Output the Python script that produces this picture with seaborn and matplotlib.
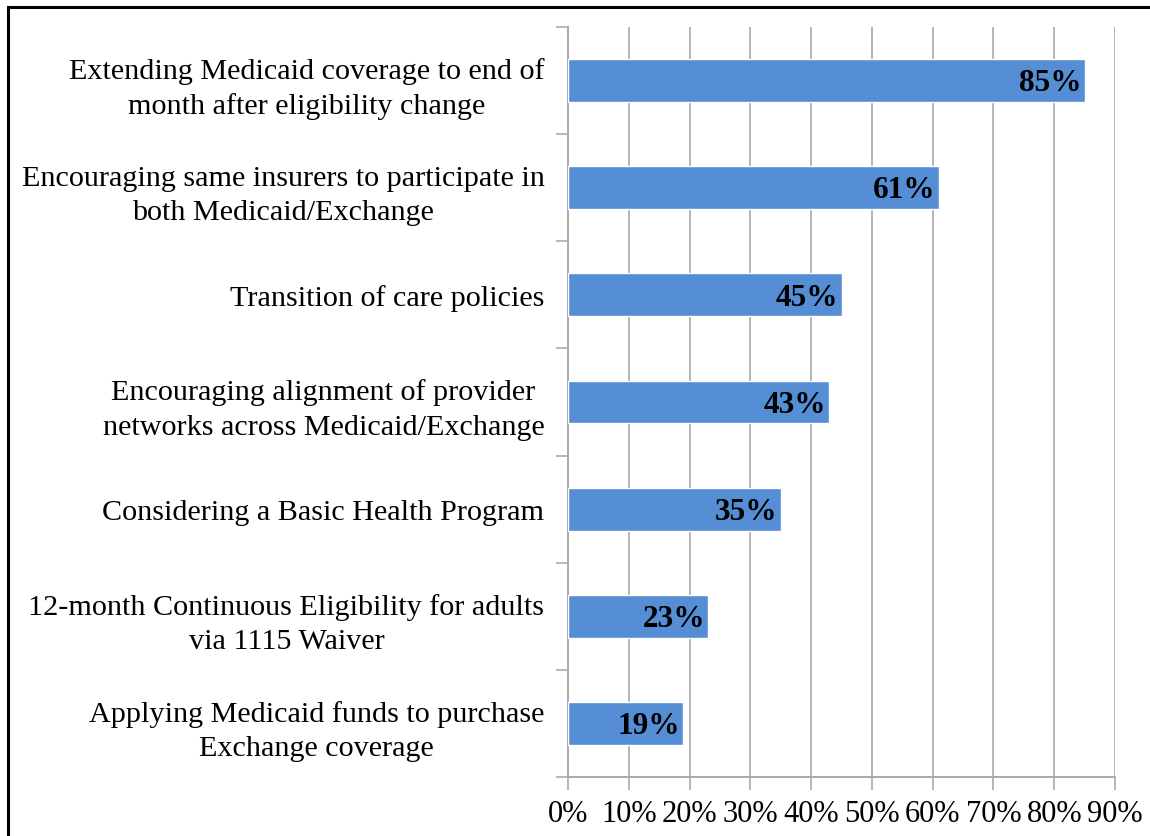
import matplotlib
matplotlib.use("Agg")
import matplotlib.pyplot as plt
import seaborn as sns
import pandas as pd
from matplotlib.patches import Rectangle
from matplotlib.ticker import FixedLocator, PercentFormatter

categories = [
    "Extending Medicaid coverage to end of\nmonth after eligibility change",
    "Encouraging same insurers to participate in\nboth Medicaid/Exchange",
    "Transition of care policies",
    "Encouraging alignment of provider\nnetworks across Medicaid/Exchange",
    "Considering a Basic Health Program",
    "12-month Continuous Eligibility for adults\nvia 1115 Waiver",
    "Applying Medicaid funds to purchase\nExchange coverage",
]
values = [85, 61, 45, 43, 35, 23, 19]
x_ticks = [0, 10, 20, 30, 40, 50, 60, 70, 80, 90]

df = pd.DataFrame({"category": categories, "value": values})

sns.set_theme(style="white")
plt.rcParams["font.family"] = ["Liberation Serif", "DejaVu Serif"]

fig = plt.figure(figsize=(11.5, 8.37), dpi=100)
ax = fig.add_axes([568 / 1150, 1 - 778 / 837, (1115 - 568) / 1150, (778 - 28) / 837])

sns.barplot(data=df, x="value", y="category", orient="h", color="#558ED5",
            saturation=1, width=0.4, ax=ax, zorder=3)

ax.set_xlim(0, 90)
ax.set_ylim(6.5, -0.5)
ax.xaxis.set_major_locator(FixedLocator(x_ticks))
ax.xaxis.set_major_formatter(PercentFormatter(decimals=0))
ax.grid(axis="x", color="#A8A8A8", linewidth=1.2, zorder=0)
ax.set_axisbelow(True)

for s in ["top", "right"]:
    ax.spines[s].set_visible(False)
for s in ["left", "bottom"]:
    ax.spines[s].set_color("#AAAAAA")
    ax.spines[s].set_linewidth(1.4)

ax.set_xlabel("")
ax.set_ylabel("")
ax.tick_params(axis="x", which="major", length=9, width=1.2, color="#AAAAAA",
               direction="out", labelsize=22, pad=7, bottom=True)
ax.tick_params(axis="y", which="major", length=0, pad=17, labelsize=21.7)
ax.yaxis.set_minor_locator(FixedLocator([i + 0.5 for i in range(-1, 7)]))
ax.tick_params(axis="y", which="minor", length=9, width=1.2, color="#AAAAAA",
               direction="out", left=True)
for lbl in ax.get_yticklabels():
    lbl.set_multialignment("center")
    lbl.set_linespacing(1.42)
    lbl.set_color("black")
for lbl in ax.get_xticklabels():
    lbl.set_color("black")

for i, v in enumerate(values):
    ax.text(v - 0.5, i + 0.02, f"{v}%", ha="right", va="center", fontsize=22.5,
            fontweight="bold", color="black", zorder=4)

fig.patches.append(Rectangle((8 / 1150, -0.05), 1.2, 1 - 8 / 837 + 0.05,
                             transform=fig.transFigure, fill=False,
                             edgecolor="black", linewidth=2.2))

fig.savefig("out.png", dpi=100)
